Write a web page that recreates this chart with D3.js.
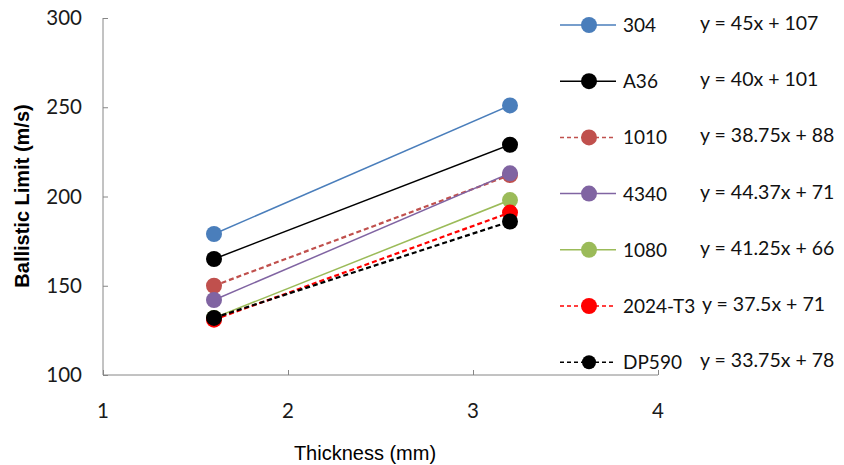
<!DOCTYPE html>
<html>
<head>
<meta charset="utf-8">
<script src="https://cdn.jsdelivr.net/npm/d3@7"></script>
<style>
  body{margin:0;background:#fff;}
  svg{display:block;}
</style>
</head>
<body>
<div id="chart"></div>
<script>
// data
var names = ["304", "A36", "1010", "4340", "1080", "2024-T3", "DP590"];
var equations = ["y = 45x + 107", "y = 40x + 101", "y = 38.75x + 88", "y = 44.37x + 71",
                 "y = 41.25x + 66", "y = 37.5x + 71", "y = 33.75x + 78"];
var thickness = [1.6, 3.2];
var limits = [
  [179, 251],
  [165, 229],
  [150, 212],
  [142, 213],
  [132, 198],
  [131, 191],
  [132, 186]
];
var xTicks = [1, 2, 3, 4];
var yTicks = [100, 150, 200, 250, 300];

var colors = ["#4A7EBB", "#000000", "#C0504D", "#8064A2", "#9BBB59", "#FF0000", "#000000"];
var dashed = [false, false, true, false, false, true, true];

var width = 844, height = 465;
var svg = d3.select("#chart").append("svg").attr("width", width).attr("height", height);

var x = d3.scaleLinear().domain([1, 4]).range([103, 658]);
var y = d3.scaleLinear().domain([100, 300]).range([375, 18]);

var tickFont = "Lato, 'Open Sans', sans-serif";

// axes
var yAxis = svg.append("g").attr("transform", "translate(" + x(1) + ",0)")
  .call(d3.axisRight(y).tickValues(yTicks).tickSize(5).tickFormat(""));
yAxis.select(".domain").attr("stroke", "#868686").attr("d", "M0," + y(300) + "V" + y(100));
yAxis.selectAll(".tick line").attr("stroke", "#868686");

var xAxis = svg.append("g").attr("transform", "translate(0," + y(100) + ")")
  .call(d3.axisTop(x).tickValues(xTicks).tickSize(5).tickFormat(""));
xAxis.select(".domain").attr("stroke", "#868686").attr("d", "M" + x(1) + ",0H" + x(4));
xAxis.selectAll(".tick line").attr("stroke", "#868686");

svg.selectAll("text.ylab").data(yTicks).enter().append("text")
  .attr("class", "ylab")
  .attr("x", 82).attr("y", function(d){return y(d) + 7;})
  .attr("text-anchor", "end")
  .style("font-family", tickFont).style("font-size", "20.5px").style("fill", "#1a1a1a")
  .text(function(d){return d;});

svg.selectAll("text.xlab").data(xTicks).enter().append("text")
  .attr("class", "xlab")
  .attr("x", function(d){return x(d);}).attr("y", 418)
  .attr("text-anchor", "middle")
  .style("font-family", tickFont).style("font-size", "20.5px").style("fill", "#1a1a1a")
  .text(function(d){return d;});

svg.append("text")
  .attr("transform", "translate(29,196) rotate(-90)")
  .attr("text-anchor", "middle")
  .style("font-family", "'Liberation Sans', Arial, sans-serif")
  .style("font-size", "20px").style("font-weight", "bold")
  .text("Ballistic Limit (m/s)");

svg.append("text")
  .attr("x", 365).attr("y", 460)
  .attr("text-anchor", "middle")
  .style("font-family", "'Liberation Sans', Arial, sans-serif")
  .style("font-size", "20px")
  .text("Thickness (mm)");

// series
var series = names.map(function(n, i){
  return {name:n, eq:equations[i], color:colors[i], dashed:dashed[i],
          pts:thickness.map(function(t, j){return [t, limits[i][j]];})};
});

var line = d3.line().x(function(d){return x(d[0]);}).y(function(d){return y(d[1]);});

var groups = svg.selectAll("g.series").data(series).enter().append("g").attr("class", "series");
groups.append("path")
  .attr("d", function(d){return line(d.pts);})
  .attr("fill", "none")
  .attr("stroke", function(d){return d.color;})
  .attr("stroke-width", function(d){return d.dashed ? 2.2 : 1.5;})
  .attr("stroke-dasharray", function(d){return d.dashed ? "5,3" : null;});
groups.selectAll("circle").data(function(d){return d.pts.map(function(p){return {p:p, c:d.color};});})
  .enter().append("circle")
  .attr("cx", function(d){return x(d.p[0]);})
  .attr("cy", function(d){return y(d.p[1]);})
  .attr("r", 8)
  .attr("fill", function(d){return d.c;});

// legend
var leg = svg.append("g").selectAll("g").data(series).enter().append("g")
  .attr("transform", function(d, i){return "translate(0," + (25 + i * 56.2) + ")";});
leg.append("line")
  .attr("x1", 560).attr("x2", 616).attr("y1", 0).attr("y2", 0)
  .attr("stroke", function(d){return d.color;})
  .attr("stroke-width", 1.5)
  .attr("stroke-dasharray", function(d){return d.dashed ? "4,3" : null;});
leg.append("circle").attr("cx", 589).attr("cy", 0)
  .attr("r", function(d){return d.name == "DP590" ? 7 : 8;})
  .attr("fill", function(d){return d.color;});
leg.append("text")
  .attr("x", 623).attr("y", 7)
  .style("font-family", tickFont).style("font-size", "19px").style("fill", "#111")
  .text(function(d){return d.name;});
leg.append("text")
  .attr("x", function(d){return d.name == "2024-T3" ? 702 : 700;}).attr("y", 5)
  .style("font-family", tickFont).style("font-size", "19.5px").style("fill", "#111")
  .text(function(d){return d.eq;});
</script>
</body>
</html>
